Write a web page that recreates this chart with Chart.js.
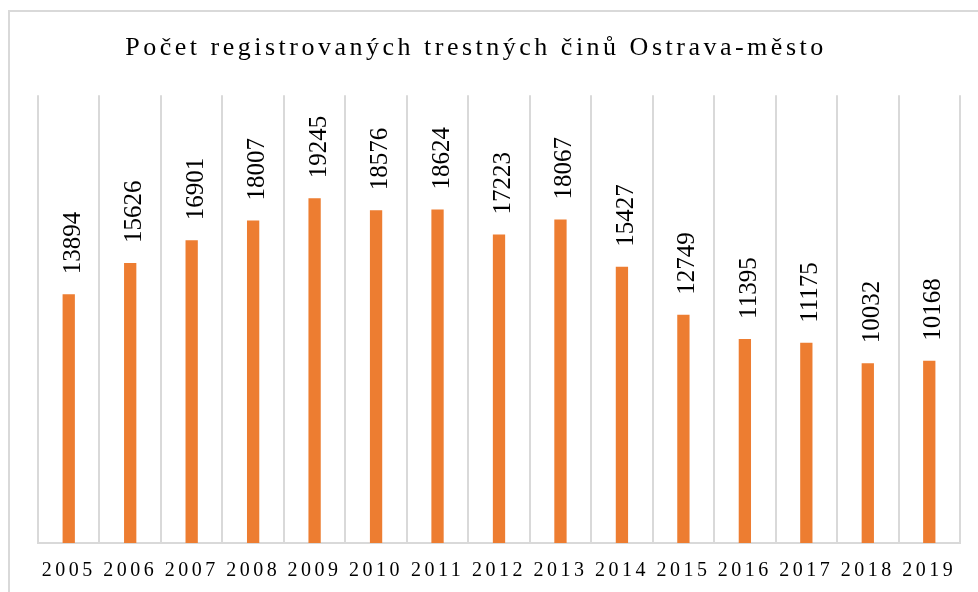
<!DOCTYPE html>
<html>
<head>
<meta charset="utf-8">
<script src="https://cdn.jsdelivr.net/npm/chart.js@4/dist/chart.umd.min.js"></script>
<style>
  html, body { margin: 0; padding: 0; background: #fff; overflow: hidden; }
  #frame { position: absolute; left: 8px; top: 10px; width: 1000px; height: 620px; border: 2px solid #d9d9d9; box-sizing: border-box; }
  #wrap { position: absolute; left: 0; top: 0; width: 978px; height: 592px; }
</style>
</head>
<body>
<div id="frame"></div>
<div id="wrap"><canvas id="c" width="978" height="592"></canvas></div>
<script>
const chartTitle = "Počet registrovaných trestných činů Ostrava-město";
const years = ["2005","2006","2007","2008","2009","2010","2011","2012","2013","2014","2015","2016","2017","2018","2019"];
const crimes = [13894, 15626, 16901, 18007, 19245, 18576, 18624, 17223, 18067, 15427, 12749, 11395, 11175, 10032, 10168];

const spacingPlugin = {
  id: 'spacing',
  afterLayout(chart) {
    const t = chart.titleBlock;
    if (t) { t.left -= 23; t.right -= 23; }
  },
  beforeDraw(chart) { chart.ctx.letterSpacing = '3.5px'; },
  beforeDatasetsDraw(chart) { chart.ctx.letterSpacing = '0px'; },
  afterDatasetsDraw(chart) {
    const ctx = chart.ctx;
    const meta = chart.getDatasetMeta(0);
    const data = chart.data.datasets[0].data;
    ctx.save();
    ctx.letterSpacing = '0px';
    ctx.font = '25px "Liberation Serif", "Times New Roman", serif';
    ctx.fillStyle = '#000';
    ctx.textAlign = 'left';
    ctx.textBaseline = 'alphabetic';
    meta.data.forEach((bar, i) => {
      ctx.save();
      ctx.translate(bar.x + 11, bar.y - 20);
      ctx.rotate(-Math.PI / 2);
      ctx.fillText(String(data[i]), 0, 0);
      ctx.restore();
    });
    ctx.restore();
  }
};

new Chart(document.getElementById('c'), {
  type: 'bar',
  data: {
    labels: years,
    datasets: [{
      data: crimes,
      backgroundColor: '#ED7D31',
      borderWidth: 0,
      barPercentage: 0.2,
      categoryPercentage: 1.0
    }]
  },
  options: {
    responsive: false,
    animation: false,
    layout: { padding: { left: 38, right: 18, top: 0, bottom: 0 } },
    plugins: {
      legend: { display: false },
      tooltip: { enabled: false },
      title: {
        display: true,
        text: chartTitle,
        color: '#000',
        font: { family: '"Liberation Serif", "Times New Roman", serif', size: 26, weight: 'normal', lineHeight: 1.2 },
        padding: { top: 33, bottom: 31 }
      }
    },
    scales: {
      x: {
        offset: true,
        grid: { display: true, color: '#d9d9d9', lineWidth: 2, drawTicks: false, offset: true },
        border: { display: true, color: '#d9d9d9', width: 2 },
        ticks: {
          color: '#000',
          autoSkip: false, maxRotation: 0, minRotation: 0,
          padding: 16,
          font: { family: '"Liberation Serif", "Times New Roman", serif', size: 20, lineHeight: 1.2 }
        },
        afterFit(scale) { scale.height = 49; }
      },
      y: {
        display: false,
        min: 0,
        max: 25000
      }
    }
  },
  plugins: [spacingPlugin]
});
</script>
</body>
</html>
